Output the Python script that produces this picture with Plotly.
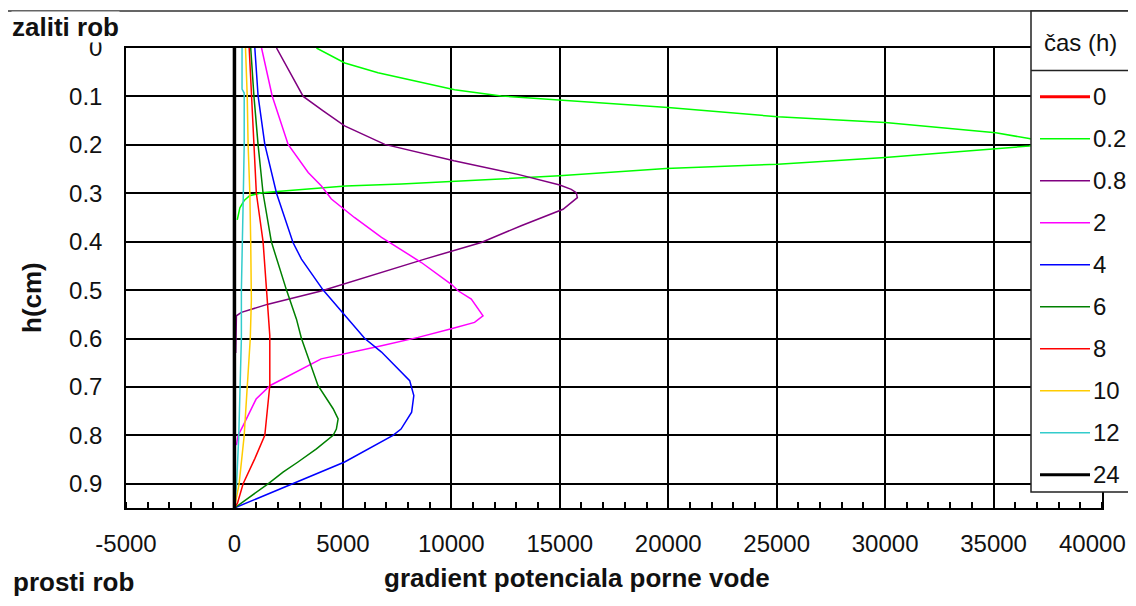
import plotly.graph_objects as go

# ---------------- data ----------------
time_labels = ["0", "0.2", "0.8", "2", "4", "6", "8", "10", "12", "24"]

depth_t0 = [0, 0.95]
grad_t0 = [0, 0]

depth_t02 = [0, 0.031, 0.051, 0.086, 0.099, 0.11, 0.123, 0.142, 0.154, 0.175, 0.187, 0.195,
             0.2025, 0.208, 0.226, 0.24, 0.249, 0.264, 0.275, 0.281, 0.285, 0.292, 0.297,
             0.299, 0.305, 0.315, 0.33, 0.355]
grad_t02 = [3780, 5090, 6620, 10150, 12300, 15700, 19990, 25050, 30000, 35100, 36640, 37400,
            36640, 35100, 30000, 25050, 19900, 14980, 10120, 7700, 5120, 3090, 1900,
            1250, 700, 450, 250, 130]

depth_t08 = [0, 0.051, 0.1, 0.13, 0.161, 0.199, 0.233, 0.261, 0.283, 0.292, 0.2986, 0.309,
             0.333, 0.367, 0.4017, 0.436, 0.4636, 0.502, 0.529, 0.546, 0.553, 0.58, 0.63]
grad_t08 = [1940, 2550, 3170, 4090, 5080, 6930, 10120, 13070, 15000, 15530, 15760, 15810,
            15150, 13220, 11380, 8770, 6780, 4000, 1550, 320, 90, 70, 60]

depth_t2 = [0, 0.099, 0.199, 0.257, 0.285, 0.312, 0.35, 0.391, 0.443, 0.488, 0.5014, 0.5186,
            0.553, 0.5666, 0.58, 0.5976, 0.615, 0.642, 0.697, 0.725, 0.78, 0.80, 0.82]
grad_t2 = [1250, 1740, 2475, 3400, 4010, 4470, 5530, 6780, 8620, 10000, 10310, 10920,
           11460, 11070, 10000, 8470, 6780, 4000, 1650, 1000, 400, 170, 90]

depth_t4 = [0, 0.099, 0.199, 0.3, 0.4017, 0.436, 0.5, 0.6, 0.628, 0.687, 0.718, 0.752,
            0.787, 0.8, 0.855, 0.9, 0.93, 0.95]
grad_t4 = [940, 1090, 1400, 1940, 2700, 3090, 4090, 6010, 6780, 8080, 8270, 8170,
           7680, 7310, 5080, 2700, 1090, 0]

depth_t6 = [0, 0.1, 0.2, 0.3, 0.4, 0.5, 0.56, 0.6, 0.697, 0.745, 0.766, 0.787, 0.8, 0.828,
            0.855, 0.876, 0.9, 0.924, 0.95]
grad_t6 = [750, 900, 1090, 1320, 1700, 2400, 2860, 3090, 3850, 4550, 4780, 4700, 4550, 3780,
           2930, 2240, 1550, 780, 0]

depth_t8 = [0, 0.1, 0.2, 0.3, 0.4, 0.5, 0.594, 0.697, 0.8, 0.848, 0.9, 0.94, 0.95]
grad_t8 = [680, 780, 890, 1010, 1320, 1470, 1630, 1630, 1400, 940, 400, 140, 0]

depth_t10 = [0, 0.1, 0.2, 0.3, 0.4, 0.52, 0.6, 0.7, 0.8, 0.9, 0.95]
grad_t10 = [510, 590, 630, 710, 750, 780, 730, 590, 450, 215, 0]

depth_t12 = [0, 0.085, 0.093, 0.2, 0.3, 0.4, 0.5, 0.6, 0.7, 0.8, 0.9, 0.95]
grad_t12 = [350, 350, 450, 450, 410, 350, 320, 320, 260, 200, 100, 0]

depth_t24 = [0, 0.95]
grad_t24 = [0, 0]

x_tick_values = [-5000, 0, 5000, 10000, 15000, 20000, 25000, 30000, 35000, 40000]
x_tick_labels = ["-5000", "0", "5000", "10000", "15000", "20000", "25000", "30000", "35000", "40000"]

# ---------------- style ----------------
series = [
    (grad_t0, depth_t0, "#FF0000", 2.5),
    (grad_t02, depth_t02, "#00FF00", 1.5),
    (grad_t08, depth_t08, "#800080", 1.5),
    (grad_t2, depth_t2, "#FF00FF", 1.5),
    (grad_t4, depth_t4, "#0000FF", 1.5),
    (grad_t6, depth_t6, "#008000", 1.5),
    (grad_t8, depth_t8, "#FF0000", 1.5),
    (grad_t10, depth_t10, "#FFCC00", 1.5),
    (grad_t12, depth_t12, "#33CCCC", 1.5),
    (grad_t24, depth_t24, "#000000", 3.5),
]

OFF = 8  # page body margin
W, H = 1136 - 2 * OFF, 606 - 2 * OFF
L, R, T, B = 126 - OFF, 1102 - OFF, 48 - OFF, 508 - OFF
FONT = "Liberation Sans, Arial, sans-serif"


def px(x):  # page pixel -> paper
    return (x - OFF - L) / (R - L)


def py(y):
    return (B - (y - OFF)) / (B - T)


fig = go.Figure()
for (gx, dy, col, lw), lab in zip(series, time_labels):
    fig.add_trace(go.Scatter(x=gx, y=dy, mode="lines", name=lab,
                             line=dict(color=col, width=lw), showlegend=False,
                             hoverinfo="skip"))

shapes = []
annotations = []

# outer frame
shapes.append(dict(type="rect", xref="paper", yref="paper",
                   x0=px(7), x1=px(1150), y0=py(11), y1=py(620),
                   line=dict(color="#333333", width=1.5), layer="above"))
# legend box
shapes.append(dict(type="rect", xref="paper", yref="paper",
                   x0=px(1031), x1=px(1150), y0=py(11), y1=py(492),
                   fillcolor="white", line=dict(color="#222222", width=1.5), layer="above"))
shapes.append(dict(type="line", xref="paper", yref="paper",
                   x0=px(1031), x1=px(1150), y0=py(70.5), y1=py(70.5),
                   line=dict(color="#222222", width=1.5), layer="above"))
annotations.append(dict(text="čas (h)", xref="paper", yref="paper", x=px(1042), y=py(43),
                        xanchor="left", yanchor="middle", showarrow=False,
                        font=dict(family=FONT, size=24, color="#111")))
row0, rowstep = 96.7, 42.0
for i, ((gx, dy, col, lw), lab) in enumerate(zip(series, time_labels)):
    ry = row0 + i * rowstep
    shapes.append(dict(type="line", xref="paper", yref="paper",
                       x0=px(1040), x1=px(1090), y0=py(ry), y1=py(ry),
                       line=dict(color=col, width=3 if lw > 2 else 1.5), layer="above"))
    annotations.append(dict(text=lab, xref="paper", yref="paper", x=px(1091), y=py(ry),
                            xanchor="left", yanchor="middle", showarrow=False,
                            font=dict(family=FONT, size=24, color="#111")))

# last x tick label sits at the page edge: placed so it stays inside the figure
tick_font = dict(family=FONT, size=24, color="#111")
annotations.append(dict(text=x_tick_labels[-1], xref="paper", yref="paper",
                        x=px(1128), y=py(543.5), xanchor="right", yanchor="middle",
                        showarrow=False, font=tick_font))
x_tick_text = x_tick_labels[:-1] + [""]

# text labels
bold = dict(family=FONT, size=26, color="#111")
annotations.append(dict(text="<b>zaliti rob</b>", xref="paper", yref="paper",
                        x=px(11), y=py(27), xanchor="left", yanchor="middle",
                        showarrow=False, font=bold, bgcolor="white", borderpad=0))
annotations.append(dict(text="<b>prosti rob</b>", xref="paper", yref="paper",
                        x=px(11), y=py(582), xanchor="left", yanchor="middle",
                        showarrow=False, font=bold))
annotations.append(dict(text="<b>gradient potenciala porne vode</b>", xref="paper", yref="paper",
                        x=px(577), y=py(578), xanchor="center", yanchor="middle",
                        showarrow=False, font=bold))
annotations.append(dict(text="<b>h(cm)</b>", xref="paper", yref="paper",
                        x=px(32), y=py(298), xanchor="center", yanchor="middle",
                        textangle=-90, showarrow=False, font=bold))

fig.update_layout(
    width=W, height=H,
    margin=dict(l=L, r=W - R, t=T, b=H - B),
    paper_bgcolor="white", plot_bgcolor="white",
    showlegend=False,
    shapes=shapes, annotations=annotations,
    xaxis=dict(range=[-5000, 40000], tickmode="array", tickvals=x_tick_values,
               ticktext=x_tick_text, showgrid=True, gridcolor="#000", gridwidth=1.5,
               zeroline=False, showline=True, mirror=True, linecolor="#000", linewidth=1.5,
               ticks="", ticklabelstandoff=13,
               tickfont=tick_font,
               minor=dict(tickmode="linear", tick0=0, dtick=1000, ticks="inside",
                          ticklen=6, tickwidth=1.5, tickcolor="#000", showgrid=False)),
    yaxis=dict(range=[0.95, 0], tickmode="linear", tick0=0, dtick=0.1,
               showgrid=True, gridcolor="#000", gridwidth=1.5,
               zeroline=False, showline=True, mirror=True, linecolor="#000", linewidth=1.5,
               ticks="", ticklabelstandoff=17,
               tickfont=tick_font),
)

fig.write_html("out.html")
